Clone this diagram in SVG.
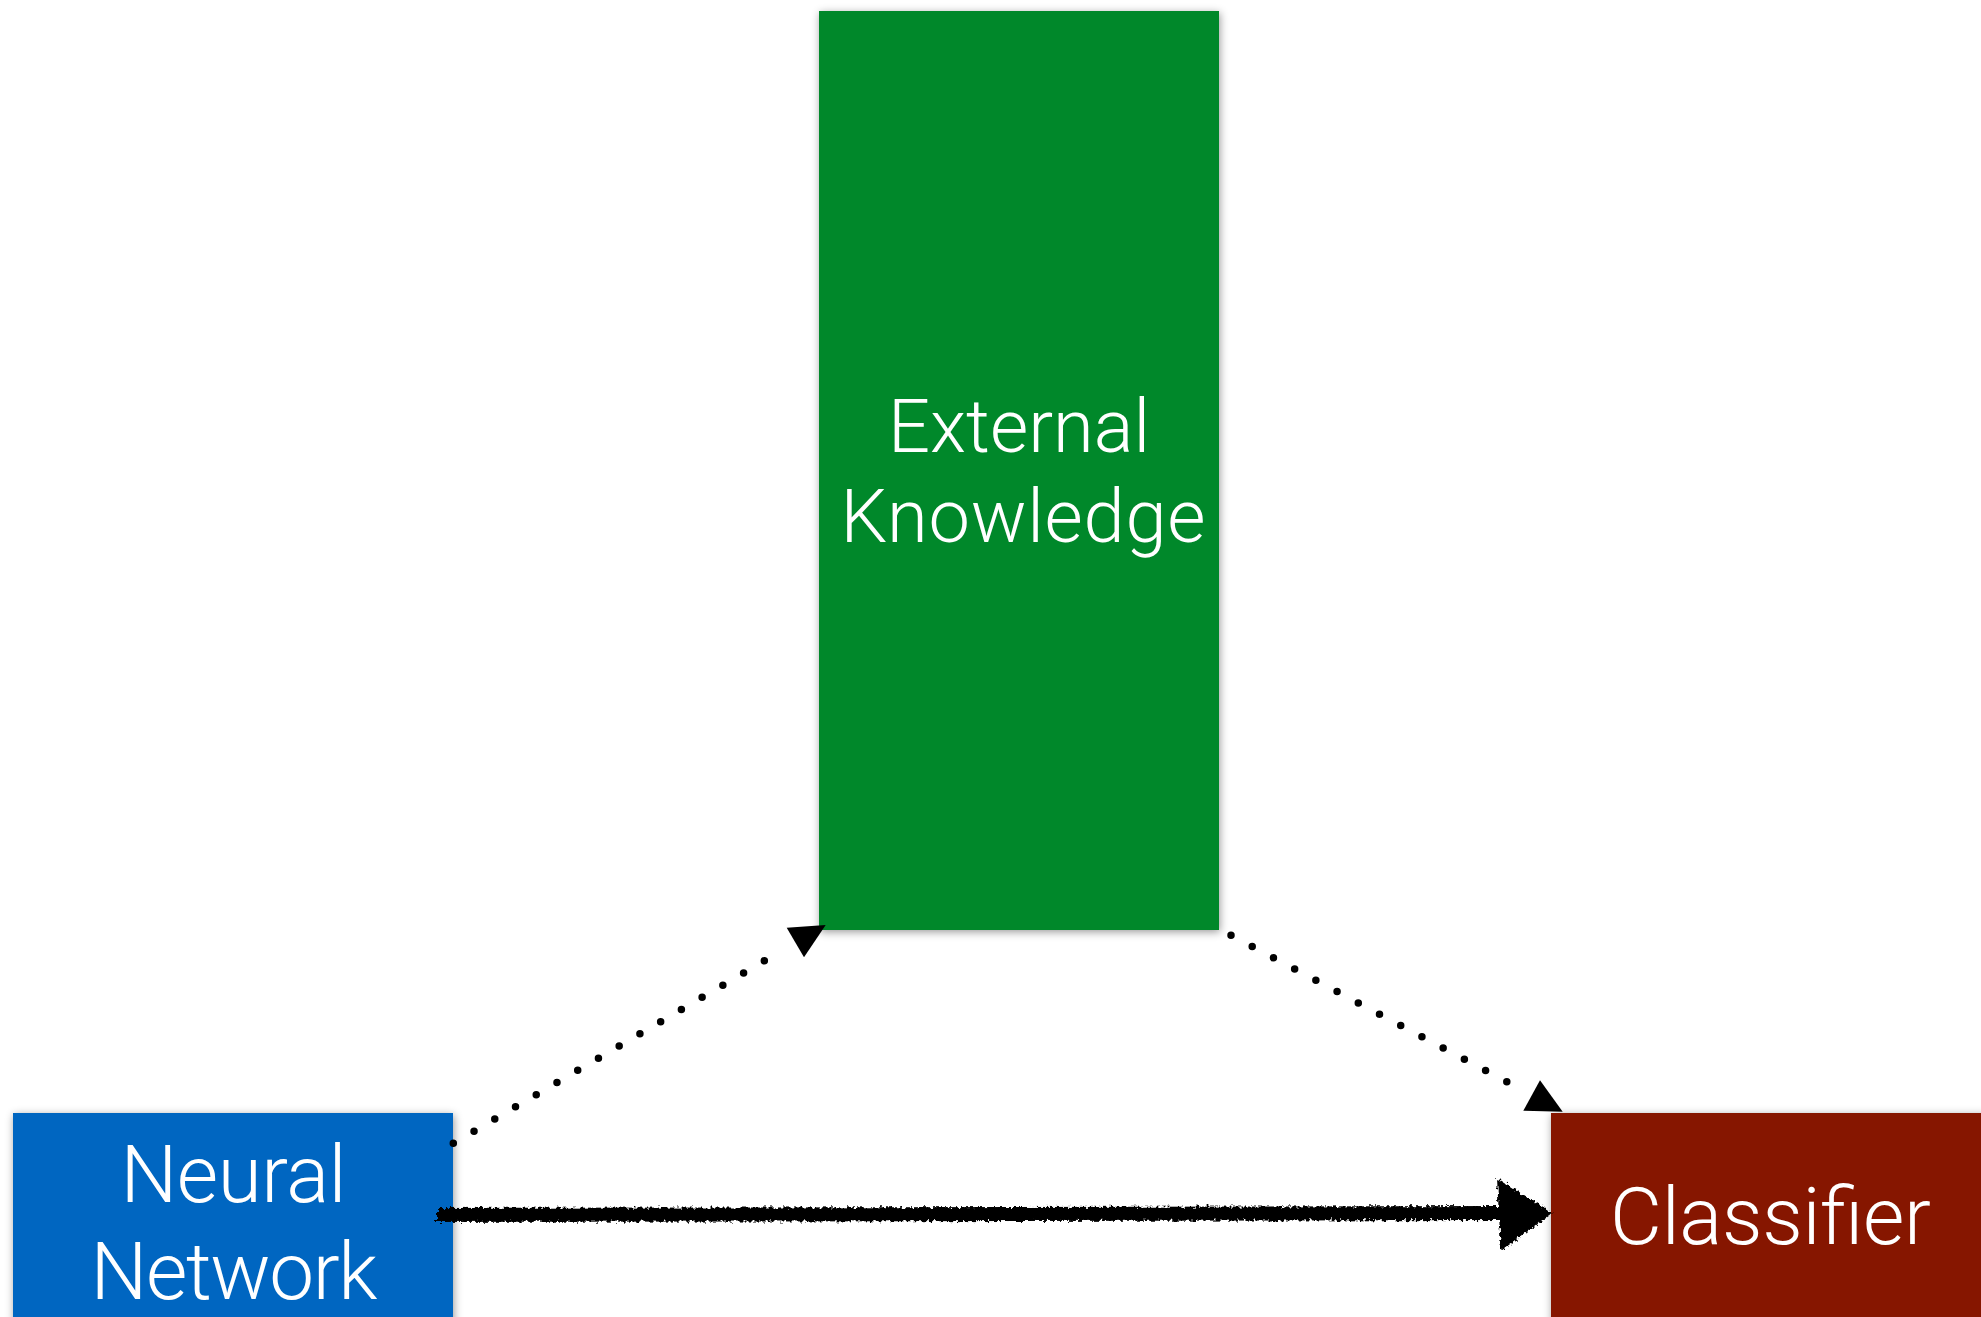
<svg xmlns="http://www.w3.org/2000/svg" width="1981" height="1317" viewBox="0 0 1981 1317">
  <style>
    .box { filter: url(#shadow); }
    .label { font-family: Roboto, "Liberation Sans", sans-serif; font-weight: 300; fill: #ffffff; text-anchor: middle; }
    .dots { fill: none; stroke: #000000; stroke-width: 7.5; stroke-linecap: round; }
    .head { fill: #000000; }
  </style>
  <defs>
    <filter id="shadow" x="-10%" y="-10%" width="120%" height="120%">
      <feDropShadow dx="1" dy="2" stdDeviation="4" flood-color="#000000" flood-opacity="0.4"/>
    </filter>
    <!-- rough, chalky edges for the hand-drawn arrow -->
    <filter id="rough" x="-5%" y="-50%" width="110%" height="200%">
      <feTurbulence type="fractalNoise" baseFrequency="0.3" numOctaves="2" seed="7" result="noise"/>
      <feDisplacementMap in="SourceGraphic" in2="noise" scale="7" xChannelSelector="R" yChannelSelector="G"/>
    </filter>
  </defs>

  <rect width="1981" height="1317" fill="#ffffff"/>

  <g id="external-knowledge">
    <rect class="box" x="819" y="11" width="400" height="919" fill="#02882C"/>
    <text class="label" x="1019" y="452" font-size="74" textLength="262" lengthAdjust="spacing">External</text>
    <text class="label" x="1023" y="542" font-size="74" textLength="365" lengthAdjust="spacing">Knowledge</text>
  </g>

  <g id="neural-network">
    <rect class="box" x="13" y="1113" width="440" height="220" fill="#0466C1"/>
    <text class="label" x="233.5" y="1202" font-size="80" textLength="226" lengthAdjust="spacing">Neural</text>
    <text class="label" x="234" y="1298.5" font-size="80" textLength="287" lengthAdjust="spacing">Network</text>
  </g>

  <g id="classifier">
    <rect class="box" x="1551" y="1113" width="440" height="220" fill="#861203"/>
    <text class="label" x="1770.5" y="1244" font-size="80" textLength="321" lengthAdjust="spacing">Classifier</text>
  </g>

  <g id="connectors">
    <!-- Neural Network to External Knowledge -->
    <path class="dots" d="M453.3 1143.3 L785 948.7" stroke-dasharray="0 24.04"/>
    <polygon class="head" points="786.7,927.7 825.7,925 804,957.3"/>
    <!-- External Knowledge to Classifier -->
    <path class="dots" d="M1231 935.3 L1528 1093" stroke-dasharray="0 24.02"/>
    <polygon class="head" points="1540,1080.3 1523.3,1110.7 1562.7,1111.7"/>
    <!-- Neural Network to Classifier, hand-drawn -->
    <g filter="url(#rough)">
      <path d="M437 1215 L1505 1213" fill="none" stroke="#000000" stroke-width="14"/>
      <polygon points="1497,1178 1553,1213 1501,1251" fill="#000000"/>
    </g>
  </g>
</svg>
